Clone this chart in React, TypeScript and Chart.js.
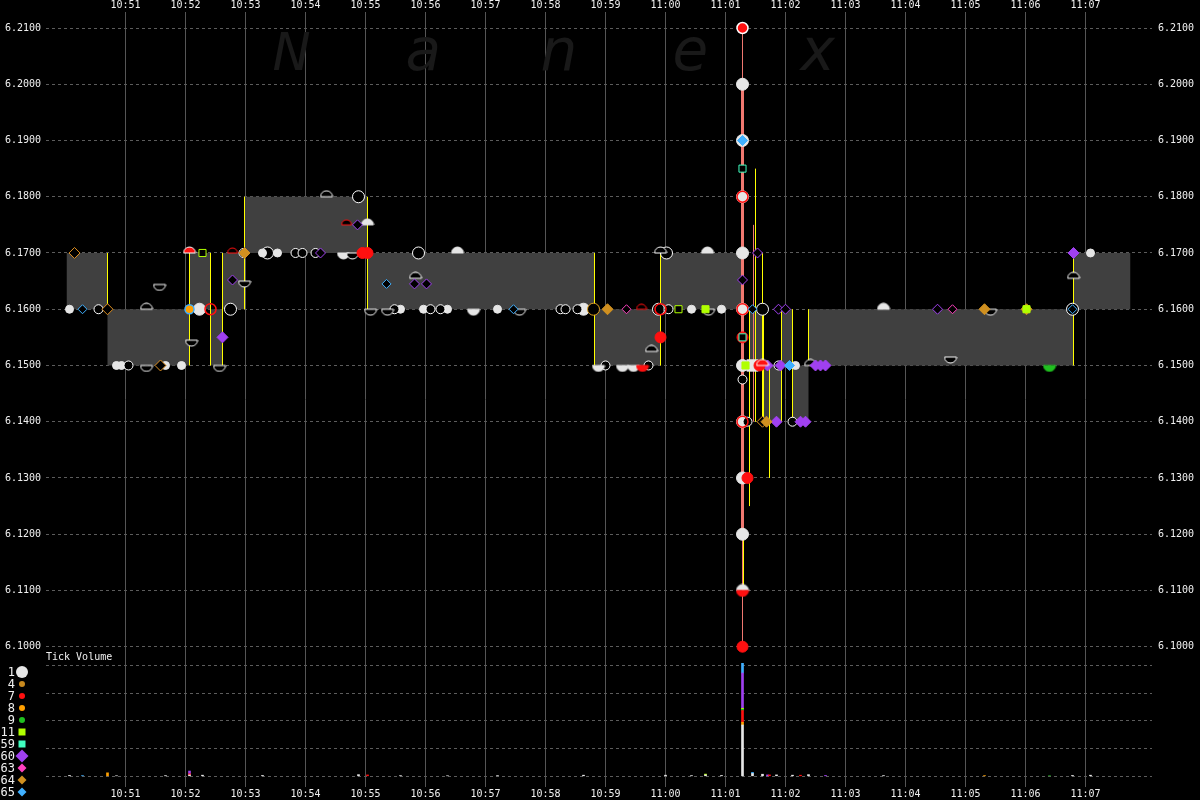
import React, { useEffect, useRef } from "react";
import { Chart, registerables } from "chart.js";

Chart.register(...registerables);

// ---------------- axes ----------------
const timeTickLabels = ["10:51","10:52","10:53","10:54","10:55","10:56","10:57","10:58","10:59","11:00","11:01","11:02","11:03","11:04","11:05","11:06","11:07"];
const priceTickValues = [6.1, 6.11, 6.12, 6.13, 6.14, 6.15, 6.16, 6.17, 6.18, 6.19, 6.2, 6.21];
const volumeTickValues = [0, 200, 400, 600, 800];
const timeRange = ["10:49:40.5", "11:08:06.5"];
const priceRange = [6.075055, 6.212845];
const volumeRange = [-77.4, 5528];

// ---------------- NBBO band ----------------
const bandTimes = ["10:50:01","10:50:42","10:52:04","10:52:25","10:52:37","10:52:59","10:55:02","10:58:49","10:59:55","11:01:17","11:01:24","11:01:38","11:01:56","11:02:07","11:02:23","11:06:48","11:07:45"];
const askPrices = [6.17,6.16,6.17,6.16,6.17,6.18,6.17,6.16,6.17,6.16,6.16,6.15,6.16,6.15,6.16,6.17,6.17];
const bidPrices = [6.16,6.15,6.16,6.15,6.16,6.17,6.16,6.15,6.16,6.16,6.15,6.14,6.15,6.14,6.15,6.16,6.16];

// quote change (yellow) lines
const quoteChangeTimes = ["10:50:42","10:52:04","10:52:25","10:52:37","10:52:59","10:55:02","10:58:49","10:59:55","11:01:18","11:01:24","11:01:30","11:01:37","11:01:38","11:01:44","11:01:56","11:02:07","11:02:23","11:06:48"];
const quoteChangeLow = [6.16,6.15,6.15,6.15,6.16,6.16,6.15,6.15,6.11,6.125,6.14,6.14,6.14,6.13,6.14,6.14,6.15,6.15];
const quoteChangeHigh = [6.17,6.17,6.17,6.17,6.18,6.18,6.17,6.17,6.125,6.16,6.185,6.17,6.16,6.15,6.16,6.16,6.16,6.17];

// trade-through spike lines
const spikeThin = [["11:01:17", 6.10, 6.21], ["11:01:28", 6.14, 6.175]];
const spikeThick = [["11:01:17", 6.12, 6.20]];

// ---------------- trades (time, price) ----------------
type Pt = [string, number];
const whiteBigDots: Pt[] = [["10:52:14",6.16],["10:58:38",6.16],["11:01:17",6.20],["11:01:17",6.19],["11:01:17",6.18],["11:01:17",6.17],["11:01:17",6.16],["11:01:17",6.15],["11:01:17",6.14],["11:01:17",6.13],["11:01:17",6.12]];
const whiteDots: Pt[] = [["10:50:04",6.16],["10:50:51",6.15],["10:50:56",6.15],["10:51:40",6.15],["10:51:56",6.15],["10:53:17",6.17],["10:53:32",6.17],["10:55:35",6.16],["10:55:58",6.16],["10:56:22",6.16],["10:57:12",6.16],["11:00:26",6.16],["11:00:56",6.16],["11:01:32",6.15],["11:02:10",6.15],["11:07:05",6.17]];
const openBigCircles: Pt[] = [["10:53:22",6.17],["10:54:53",6.18],["10:55:53",6.17],["10:59:53",6.16],["11:00:01",6.17],["11:01:37",6.16],["11:06:47",6.16],["10:52:45",6.16]];
const openCircles: Pt[] = [["10:50:33",6.16],["10:51:03",6.15],["10:52:58",6.17],["10:53:50",6.17],["10:53:57",6.17],["10:54:10",6.17],["10:55:29",6.16],["10:56:05",6.16],["10:56:15",6.16],["10:58:15",6.16],["10:58:20",6.16],["10:58:32",6.16],["10:59:00",6.15],["10:59:43",6.15],["11:00:03",6.16],["11:01:17",6.1475],["11:01:22",6.14],["11:02:07",6.14],["11:01:53",6.15]];
const domeFilledWhite: Pt[] = [["10:56:32",6.17],["10:55:02",6.175],["11:03:38",6.16],["11:00:42",6.17],["11:01:17",6.11]];
const domeOpenWhite: Pt[] = [["10:51:21",6.16],["10:54:21",6.18],["10:55:50",6.1655],["10:59:46",6.1525],["11:06:48",6.1655],["11:02:25",6.15],["10:59:55",6.17]];
const domeOpenRed: Pt[] = [["10:52:47",6.17],["10:54:41",6.175],["10:59:36",6.16]];
const domeFilledRed: Pt[] = [["10:52:04",6.17],["11:01:37",6.15]];
const bowlOpenWhite: Pt[] = [["10:51:34",6.1644],["10:51:21",6.15],["10:52:06",6.1545],["10:52:34",6.15],["10:52:59",6.165],["10:54:47",6.17],["10:55:05",6.16],["10:55:22",6.16],["10:57:34",6.16],["11:04:45",6.1515],["11:05:25",6.16],["11:00:43",6.16]];
const bowlFilledWhite: Pt[] = [["10:54:38",6.17],["10:56:48",6.16],["10:58:53",6.15],["10:59:17",6.15],["10:59:28",6.15]];
const bowlFilledGreen: Pt[] = [["11:06:24",6.15]];
const bowlFilledRed: Pt[] = [["10:59:37",6.15],["11:01:17",6.11]];
const purpleDiamonds: Pt[] = [["10:52:37",6.155],["11:01:42",6.15],["11:01:51",6.14],["11:01:55",6.15],["11:02:15",6.14],["11:02:20",6.14],["11:02:30",6.15],["11:02:35",6.15],["11:02:40",6.15],["11:06:48",6.17]];
const purpleOpenDiamonds: Pt[] = [["10:52:47",6.1652],["10:54:15",6.17],["10:54:52",6.175],["10:55:49",6.1645],["10:56:01",6.1645],["11:01:17",6.1652],["11:01:32",6.17],["11:01:53",6.16],["11:02:00",6.16],["11:04:32",6.16]];
const blueOpenDiamonds: Pt[] = [["10:50:17",6.16],["10:55:21",6.1645],["10:57:28",6.16],["11:01:27",6.16],["11:06:47",6.16]];
const blueDiamonds: Pt[] = [["11:01:17",6.19],["11:02:04",6.15]];
const brownOpenDiamonds: Pt[] = [["10:50:09",6.17],["10:50:42",6.16],["10:51:35",6.15],["11:01:37",6.14]];
const brownDiamonds: Pt[] = [["10:52:59",6.17],["10:59:02",6.16],["11:05:19",6.16],["11:06:01",6.16],["11:01:41",6.14]];
const pinkOpenDiamonds: Pt[] = [["10:59:21",6.16],["11:04:47",6.16]];
const limeOpenSquares: Pt[] = [["10:52:17",6.17],["11:00:13",6.16]];
const limeSquares: Pt[] = [["11:00:40",6.16],["11:06:01",6.16],["11:01:20",6.15]];
const aquaOpenSquares: Pt[] = [["11:01:17",6.185],["11:01:17",6.155]];
const whiteSquares: Pt[] = [["11:01:27",6.15]];
const redDots: Pt[] = [["10:55:02",6.17],["10:54:57",6.17],["10:59:55",6.155],["11:01:17",6.155],["11:01:17",6.10],["11:01:22",6.13],["11:01:34",6.15]];
const redRingDots: Pt[] = [["11:01:17",6.21]];
const redOpenCircles: Pt[] = [["10:52:25",6.16],["10:59:55",6.16],["11:01:17",6.14],["11:01:17",6.16],["11:01:17",6.18]];
const orangeDots: Pt[] = [["10:52:04",6.16]];
const orangeOpenCircles: Pt[] = [["10:58:48",6.16]];

// ---------------- tick volume (time, volume) ----------------
const volWhite: Pt[] = [["10:50:04",6],["10:50:51",4],["10:51:40",5],["10:52:04",10],["10:52:17",8],["10:53:17",6],["10:54:53",12],["10:55:35",5],["10:56:22",4],["10:57:12",5],["10:58:38",8],["11:00:00",8],["11:00:26",5],["11:00:40",10],["11:00:56",6],["11:01:17",371],["11:01:27",20],["11:01:37",15],["11:01:51",10],["11:02:07",8],["11:02:23",12],["11:03:38",5],["11:06:47",6],["11:07:05",8]];
const volOrange: Pt[] = [["10:50:42",25],["11:01:17",20],["11:05:19",5]];
const volRed: Pt[] = [["10:52:04",8],["10:55:02",10],["11:01:17",85],["11:01:44",10],["11:02:15",8]];
const volGreen: Pt[] = [["11:01:17",8],["11:06:24",4]];
const volLime: Pt[] = [["11:00:40",6],["11:01:17",8]];
const volPurple: Pt[] = [["10:52:04",20],["11:01:17",255],["11:01:42",10],["11:02:40",6]];
const volBlue: Pt[] = [["10:50:17",5],["11:01:17",70],["11:01:27",8]];

// ---------------- legend ----------------
const legendCodes = ["1","4","7","8","9","11","59","60","63","64","65"];
const legendColors = ["#e6e6e6","#c8891e","#ff1010","#ffa000","#20c020","#b0ff00","#40ffc0","#a040f0","#ff40c0","#d09020","#40b0ff"];
const legendShapes = ["circle","circle","circle","circle","circle","square","square","diamond","diamond","diamond","diamond"];

const watermarkLetters = ["N", "a", "n", "e", "x"];
const watermarkTimes = ["10:53:27", "10:55:40", "10:57:55", "11:00:07", "11:02:15"];

function tm(s: string): number {
  const [h, m, sec] = s.split(":").map(Number);
  return (h - 10) * 60 + m + (sec || 0) / 60;
}
function fmtTime(v: number): string {
  const tot = Math.round(v);
  const h = 10 + Math.floor(tot / 60);
  const m = tot % 60;
  return `${h}:${String(m).padStart(2, "0")}`;
}

function halfDisc(r: number, fill: string, stroke: string, top: boolean): HTMLCanvasElement {
  const c = document.createElement("canvas");
  c.width = 2 * r + 2;
  c.height = 2 * r + 2;
  const g = c.getContext("2d")!;
  const cx = r + 1, cy = r + 1;
  g.beginPath();
  if (top) g.arc(cx, cy, r, Math.PI, 2 * Math.PI);
  else g.arc(cx, cy, r, 0, Math.PI);
  g.closePath();
  g.fillStyle = fill;
  g.fill();
  g.strokeStyle = stroke;
  g.lineWidth = 1;
  g.stroke();
  return c;
}

const MONO = "'DejaVu Sans Mono', monospace";
const TXT = "#f0f0f0";

export default function App() {
  const ref = useRef<HTMLCanvasElement>(null);

  useEffect(() => {
    const canvas = ref.current!;
    const P = (arr: Pt[]) => arr.map(([t, p]) => ({ x: tm(t), y: p }));

    const marker = (data: Pt[], style: any, r: number, bg: string, bc: string, order: number, bw = 1) => ({
      type: "line" as const,
      data: P(data),
      showLine: false,
      pointStyle: style,
      pointRadius: r,
      pointBackgroundColor: bg,
      pointBorderColor: bc,
      pointBorderWidth: bw,
      order,
      xAxisID: "x",
      yAxisID: "y",
    });

    const vlines = (times: string[], lo: number[], hi: number[]) =>
      times.flatMap((t, i) => [{ x: tm(t), y: lo[i] }, { x: tm(t), y: hi[i] }, { x: tm(t), y: null as any }]);
    const vlines2 = (arr: any[]) =>
      arr.flatMap(([t, lo, hi]) => [{ x: tm(t), y: lo }, { x: tm(t), y: hi }, { x: tm(t), y: null as any }]);

    const volDs = (arr: Pt[], color: string) => ({
      type: "bar" as const,
      data: arr.map(([t, v]) => ({ x: tm(t), y: v })),
      backgroundColor: color,
      borderWidth: 0,
      barThickness: 2,
      grouped: false,
      order: 80,
      xAxisID: "x",
      yAxisID: "yV",
    });

    const datasets: any[] = [
      {
        type: "line", data: bandTimes.map((t, i) => ({ x: tm(t), y: askPrices[i] })),
        stepped: "before", borderColor: "rgba(0,0,0,0)", borderWidth: 0, pointRadius: 0,
        fill: "+1", backgroundColor: "#404040", order: 100, xAxisID: "x", yAxisID: "y",
      },
      {
        type: "line", data: bandTimes.map((t, i) => ({ x: tm(t), y: bidPrices[i] })),
        stepped: "before", borderColor: "rgba(0,0,0,0)", borderWidth: 0, pointRadius: 0,
        fill: false, order: 101, xAxisID: "x", yAxisID: "y",
      },
      {
        type: "line", data: vlines(quoteChangeTimes, quoteChangeLow, quoteChangeHigh),
        borderColor: "#ffff00", borderWidth: 1, pointRadius: 0, spanGaps: false, fill: false,
        order: 90, xAxisID: "x", yAxisID: "y",
      },
      {
        type: "line", data: vlines2(spikeThin),
        borderColor: "#f07870", borderWidth: 1, pointRadius: 0, spanGaps: false, fill: false,
        order: 88, xAxisID: "x", yAxisID: "y",
      },
      {
        type: "line", data: vlines2(spikeThick),
        borderColor: "#f07870", borderWidth: 3, pointRadius: 0, spanGaps: false, fill: false,
        order: 89, xAxisID: "x", yAxisID: "y",
      },
      volDs(volWhite, "#e6e6e6"),
      volDs(volOrange, "#ffa000"),
      volDs(volRed, "#ff1010"),
      volDs(volGreen, "#20c020"),
      volDs(volLime, "#b0ff00"),
      volDs(volPurple, "#a040f0"),
      volDs(volBlue, "#40b0ff"),

      marker(whiteBigDots, "circle", 6, "#e6e6e6", "#e6e6e6", 60),
      marker(openBigCircles, "circle", 6, "#000000", "#ffffff", 59),
      marker(whiteDots, "circle", 4, "#e6e6e6", "#e6e6e6", 58),
      marker(openCircles, "circle", 4.5, "#000000", "#ffffff", 57),
      marker(domeFilledWhite, halfDisc(6, "#e6e6e6", "#e6e6e6", true), 5, "#fff", "#fff", 55),
      marker(domeOpenWhite, halfDisc(6, "#000000", "#ffffff", true), 5, "#fff", "#fff", 55),
      marker(domeOpenRed, halfDisc(5, "#000000", "#ff1010", true), 5, "#fff", "#fff", 54),
      marker(domeFilledRed, halfDisc(6, "#ff1010", "#ffffff", true), 5, "#fff", "#fff", 34),
      marker(bowlOpenWhite, halfDisc(6, "#000000", "#ffffff", false), 5, "#fff", "#fff", 55),
      marker(bowlFilledWhite, halfDisc(6, "#e6e6e6", "#e6e6e6", false), 5, "#fff", "#fff", 55),
      marker(bowlFilledGreen, halfDisc(6, "#20c020", "#20c020", false), 5, "#fff", "#fff", 40),
      marker(bowlFilledRed, halfDisc(6, "#ff1010", "#ff1010", false), 5, "#fff", "#fff", 40),
      marker(orangeOpenCircles, "circle", 6, "#000000", "#e0a020", 53),
      marker(redOpenCircles, "circle", 5.5, "rgba(0,0,0,0)", "#ff1010", 52, 1.5),
      marker(whiteSquares, "rect", 8, "#e6e6e6", "#e6e6e6", 51),
      marker(purpleOpenDiamonds, "rectRot", 5, "#000000", "#a040f0", 45),
      marker(blueOpenDiamonds, "rectRot", 4.5, "#000000", "#40b0ff", 44),
      marker(brownOpenDiamonds, "rectRot", 5.5, "#000000", "#e09020", 43),
      marker(pinkOpenDiamonds, "rectRot", 4.5, "#000000", "#ff40c0", 42),
      marker(purpleDiamonds, "rectRot", 5.5, "#a040f0", "#a040f0", 41),
      marker(brownDiamonds, "rectRot", 5.5, "#d09020", "#d09020", 40),
      marker(blueDiamonds, "rectRot", 5, "#40b0ff", "#40b0ff", 39),
      marker(redDots, "circle", 5.5, "#ff1010", "#ff1010", 35),
      marker(redRingDots, "circle", 5.5, "#ff1010", "#ffffff", 35, 1.5),
      marker(limeOpenSquares, "rect", 5, "#000000", "#b0ff00", 30),
      marker(limeSquares, "rect", 5, "#b0ff00", "#b0ff00", 30),
      marker(aquaOpenSquares, "rect", 5, "#000000", "#40ffc0", 29),
      marker(orangeDots, "circle", 4.5, "#ffa000", "#40b0ff", 28, 1.5),
    ];

    const bgPlugin = {
      id: "bg",
      beforeDraw(chart: any) {
        const c = chart.ctx;
        c.save();
        c.fillStyle = "#000000";
        c.fillRect(0, 0, chart.width, chart.height);
        c.restore();
      },
      beforeDatasetsDraw(chart: any) {
        const c = chart.ctx;
        c.save();
        c.fillStyle = "#191919";
        c.textBaseline = "alphabetic";
        const xs = chart.scales.x;
        watermarkLetters.forEach((L, i) => {
          c.font = L === "N" ? "italic 51px 'DejaVu Sans'" : "italic 58px 'DejaVu Sans'";
          c.fillText(L, xs.getPixelForValue(tm(watermarkTimes[i])), 70);
        });
        c.restore();
      },
      afterDraw(chart: any) {
        const c = chart.ctx;
        c.save();
        c.fillStyle = TXT;
        c.font = `10px ${MONO}`;
        c.textAlign = "left";
        c.textBaseline = "middle";
        c.fillText("Tick Volume", chart.chartArea.left, 657);
        legendCodes.forEach((code, i) => {
          const y = 672 + 12 * i;
          c.font = `12px ${MONO}`;
          c.fillStyle = TXT;
          c.textAlign = "right";
          c.fillText(code, 15, y + 1);
          c.fillStyle = legendColors[i];
          const shape = legendShapes[i];
          const cx = 22;
          c.beginPath();
          if (shape === "circle") {
            const r = i === 0 ? 6 : 3;
            c.arc(cx, y, r, 0, Math.PI * 2);
          } else if (shape === "square") {
            c.rect(cx - 3.5, y - 3.5, 7, 7);
          } else {
            const r = i === 7 ? 6.5 : 4.5;
            c.moveTo(cx - r, y);
            c.lineTo(cx, y - r);
            c.lineTo(cx + r, y);
            c.lineTo(cx, y + r);
            c.closePath();
          }
          c.fill();
        });
        c.restore();
      },
    };

    const tickFont = { family: MONO, size: 10 };

    const chart = new Chart(canvas, {
      type: "line",
      data: { datasets },
      options: {
        responsive: false,
        animation: false,
        events: [],
        layout: { padding: 0 },
        plugins: { legend: { display: false }, tooltip: { enabled: false } },
        scales: {
          x: {
            type: "linear",
            position: "bottom",
            offset: false,
            min: tm(timeRange[0]),
            max: tm(timeRange[1]),
            afterBuildTicks: (s: any) => { s.ticks = timeTickLabels.map((l) => ({ value: tm(l) })); },
            afterFit: (s: any) => { s.height = 13; },
            grid: { color: "#555555", lineWidth: 1, drawTicks: false, offset: false },
            border: { display: false },
            ticks: { color: TXT, font: tickFont, padding: 1, maxRotation: 0, autoSkip: false, callback: (v: any) => fmtTime(Number(v)) },
          },
          x2: {
            type: "linear",
            position: "top",
            offset: false,
            min: tm(timeRange[0]),
            max: tm(timeRange[1]),
            afterBuildTicks: (s: any) => { s.ticks = timeTickLabels.map((l) => ({ value: tm(l) })); },
            afterFit: (s: any) => { s.height = 12; },
            grid: { display: false, drawTicks: false, offset: false },
            border: { display: false },
            ticks: { color: TXT, font: tickFont, padding: 1, maxRotation: 0, autoSkip: false, callback: (v: any) => fmtTime(Number(v)) },
          },
          y: {
            type: "linear",
            position: "left",
            min: priceRange[0],
            max: priceRange[1],
            afterBuildTicks: (s: any) => { s.ticks = priceTickValues.map((v) => ({ value: v })); },
            afterFit: (s: any) => { s.width = 46; },
            grid: { color: "#5c5c5c", lineWidth: 1, drawTicks: false },
            border: { display: false, dash: [3, 3] },
            ticks: { color: TXT, font: tickFont, padding: 5, autoSkip: false, callback: (v: any) => Number(v).toFixed(4) },
          },
          yV: {
            type: "linear",
            position: "right",
            weight: 0,
            stacked: true,
            min: volumeRange[0],
            max: volumeRange[1],
            afterBuildTicks: (s: any) => { s.ticks = volumeTickValues.map((v) => ({ value: v })); },
            afterFit: (s: any) => { s.width = 0; },
            grid: { color: "#5c5c5c", lineWidth: 1, drawTicks: false },
            border: { display: false, dash: [3, 3] },
            ticks: { color: TXT, font: tickFont, padding: 6, autoSkip: false, callback: (v: any) => String(v) },
          },
          yR: {
            type: "linear",
            position: "right",
            weight: 1,
            min: priceRange[0],
            max: priceRange[1],
            afterBuildTicks: (s: any) => { s.ticks = priceTickValues.map((v) => ({ value: v })); },
            afterFit: (s: any) => { s.width = 48; },
            grid: { display: false, drawTicks: false },
            border: { display: false },
            ticks: { color: TXT, font: tickFont, padding: 6, autoSkip: false, callback: (v: any) => Number(v).toFixed(4) },
          },
        },
      } as any,
      plugins: [bgPlugin],
    });
    return () => chart.destroy();
  }, []);

  return (
    <div style={{ position: "absolute", left: 0, top: 0, width: 1200, height: 800, background: "#000" }}>
      <canvas ref={ref} width={1200} height={800} style={{ display: "block", width: 1200, height: 800 }} />
    </div>
  );
}
